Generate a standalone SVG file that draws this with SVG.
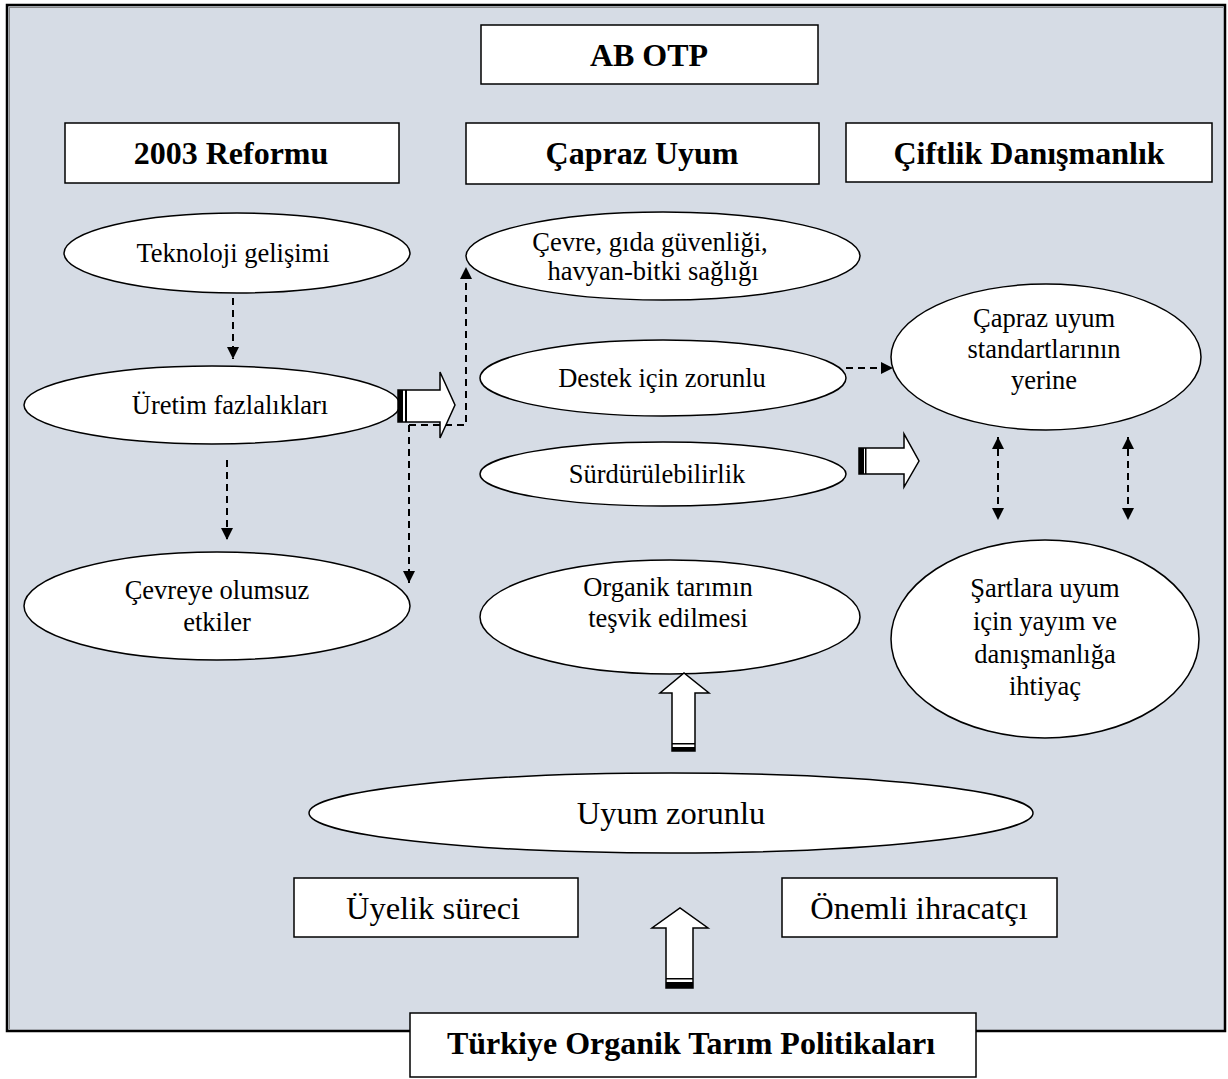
<svg xmlns="http://www.w3.org/2000/svg" width="1228" height="1079" viewBox="0 0 1228 1079">
<style>
.box{fill:#fff;stroke:#000;stroke-width:1.5}
.ell{fill:#fff;stroke:#000;stroke-width:1.5}
.h{font-family:"Liberation Serif",serif;font-weight:bold;font-size:32px;text-anchor:middle;fill:#000}
.t{font-family:"Liberation Serif",serif;font-size:26.5px;text-anchor:middle;fill:#000}
.tl{font-family:"Liberation Serif",serif;font-size:32.5px;text-anchor:middle;fill:#000}
.d{fill:none;stroke:#000;stroke-width:2;stroke-dasharray:7,5}
.blk{fill:#fff;stroke:#000;stroke-width:1.5}
</style>
<defs>
<marker id="ah" viewBox="0 0 10 10" refX="10" refY="5" markerWidth="12" markerHeight="12" markerUnits="userSpaceOnUse" orient="auto-start-reverse">
<path d="M0,0 L10,5 L0,10 z" fill="#000"/>
</marker>
</defs>
<rect x="7" y="5" width="1218" height="1026" fill="#d6dce5" stroke="#000" stroke-width="2.5"/>
<line x1="9" y1="7.5" x2="1223" y2="7.5" stroke="#888" stroke-width="1"/>
<line x1="9.5" y1="7" x2="9.5" y2="1029" stroke="#888" stroke-width="1"/>

<g id="ab-otp"><rect class="box" x="481" y="25" width="337" height="59"/><text class="h" x="649" y="66">AB OTP</text></g>
<g id="reform"><rect class="box" x="65" y="123" width="334" height="60"/><text class="h" x="231" y="164">2003 Reformu</text></g>
<g id="capraz"><rect class="box" x="466" y="123" width="353" height="61"/><text class="h" x="642" y="164">Çapraz Uyum</text></g>
<g id="ciftlik"><rect class="box" x="846" y="123" width="366" height="59"/><text class="h" x="1029" y="164">Çiftlik Danışmanlık</text></g>

<g id="teknoloji"><ellipse class="ell" cx="237" cy="253" rx="173" ry="40"/><text class="t" x="233" y="262">Teknoloji gelişimi</text></g>
<g id="uretim"><ellipse class="ell" cx="212" cy="405" rx="188" ry="39"/><text class="t" x="230" y="414">Üretim fazlalıkları</text></g>
<g id="cevreye"><ellipse class="ell" cx="217" cy="606" rx="193" ry="54"/><text class="t" x="217" y="599">Çevreye olumsuz</text><text class="t" x="217" y="631">etkiler</text></g>

<g id="cevre"><ellipse class="ell" cx="663" cy="256" rx="197" ry="44"/><text class="t" x="650" y="251">Çevre, gıda güvenliği,</text><text class="t" x="653" y="280">havyan-bitki sağlığı</text></g>
<g id="destek"><ellipse class="ell" cx="663" cy="378" rx="183" ry="38"/><text class="t" x="662" y="387">Destek için zorunlu</text></g>
<g id="surdurulebilirlik"><ellipse class="ell" cx="663" cy="474" rx="183" ry="32"/><text class="t" x="657" y="483">Sürdürülebilirlik</text></g>
<g id="organik"><ellipse class="ell" cx="670" cy="617" rx="190" ry="57"/><text class="t" x="668" y="596">Organik tarımın</text><text class="t" x="668" y="627">teşvik edilmesi</text></g>

<g id="standart"><ellipse class="ell" cx="1046" cy="357" rx="155" ry="73"/><text class="t" x="1044" y="327">Çapraz uyum</text><text class="t" x="1044" y="358">standartlarının</text><text class="t" x="1044" y="389">yerine</text></g>
<g id="sartlara"><ellipse class="ell" cx="1045" cy="639" rx="154" ry="99"/><text class="t" x="1045" y="597">Şartlara uyum</text><text class="t" x="1045" y="630">için yayım ve</text><text class="t" x="1045" y="663">danışmanlığa</text><text class="t" x="1045" y="695">ihtiyaç</text></g>

<g id="uyum"><ellipse class="ell" cx="671" cy="813" rx="362" ry="40"/><text class="tl" x="671" y="824">Uyum zorunlu</text></g>
<g id="uyelik"><rect class="box" x="294" y="878" width="284" height="59"/><text class="tl" x="433" y="919">Üyelik süreci</text></g>
<g id="ihracatci"><rect class="box" x="782" y="878" width="275" height="59"/><text class="tl" x="919" y="919">Önemli ihracatçı</text></g>
<g id="turkiye"><rect class="box" x="410" y="1013" width="566" height="64"/><text class="h" x="691" y="1054">Türkiye Organik Tarım Politikaları</text></g>

<g id="connectors">
<line class="d" x1="233" y1="298" x2="233" y2="359" marker-end="url(#ah)"/>
<line class="d" x1="227" y1="460" x2="227" y2="540" marker-end="url(#ah)"/>
<polyline class="d" points="409,425 466,425 466,267" marker-end="url(#ah)"/>
<line class="d" x1="409" y1="425" x2="409" y2="583" marker-end="url(#ah)"/>
<line class="d" x1="846" y1="368" x2="893" y2="368" marker-end="url(#ah)"/>
<line class="d" x1="998" y1="437" x2="998" y2="520" marker-start="url(#ah)" marker-end="url(#ah)"/>
<line class="d" x1="1128" y1="437" x2="1128" y2="520" marker-start="url(#ah)" marker-end="url(#ah)"/>

<path class="blk" d="M398,390 L440,390 L440,372 L455,405 L440,438 L440,422 L398,422 z"/>
<rect x="398" y="390" width="5" height="32" fill="#000"/><rect x="405" y="390" width="2" height="32" fill="#000"/>

<path class="blk" d="M859,448 L904,448 L904,434 L919,461 L904,487 L904,474 L859,474 z"/>
<rect x="859" y="448" width="5" height="26" fill="#000"/><rect x="865" y="448" width="1.5" height="26" fill="#000"/>

<path class="blk" d="M672,751 L672,693 L660,693 L684,673 L709,693 L695,693 L695,751 z"/>
<rect x="672" y="747" width="23" height="4" fill="#000"/><rect x="672" y="743" width="23" height="1.5" fill="#000"/>

<path class="blk" d="M666,988 L666,928 L652,928 L680,908 L708,928 L693,928 L693,988 z"/>
<rect x="666" y="982" width="27" height="6" fill="#000"/><rect x="666" y="978" width="27" height="1.5" fill="#000"/>
</g>
</svg>
